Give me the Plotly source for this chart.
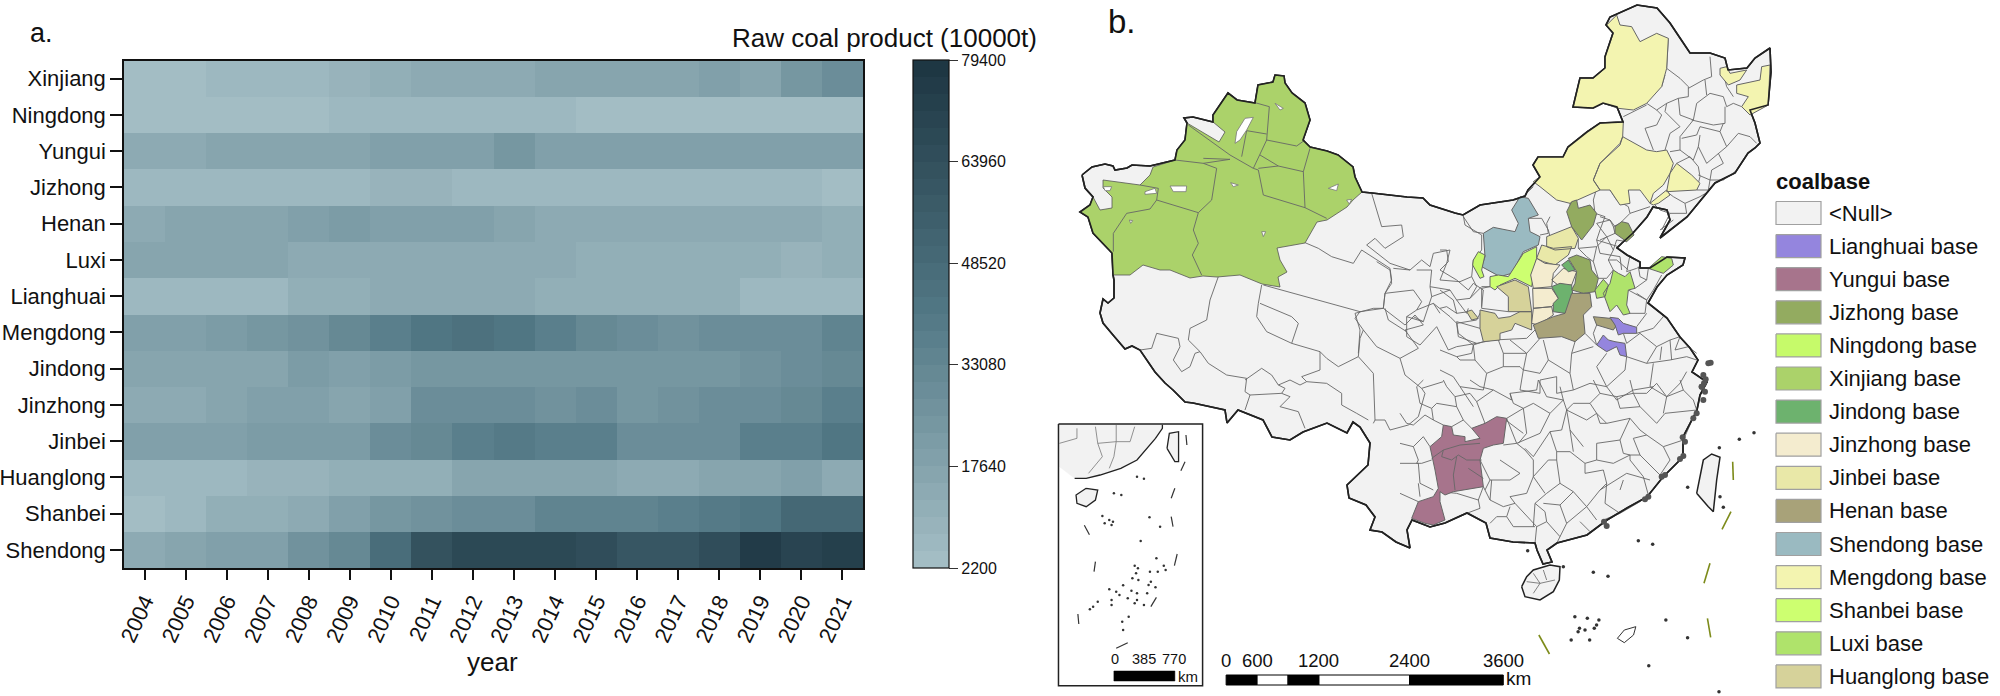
import plotly.graph_objects as go

# ---------- panel a data ----------
YEARS = [str(y) for y in range(2004, 2022)]
BASES = ["Xinjiang", "Ningdong", "Yungui", "Jizhong", "Henan", "Luxi", "Lianghuai", "Mengdong", "Jindong",
         "Jinzhong", "Jinbei", "Huanglong", "Shanbei", "Shendong"]
XINJIANG = [4000, 4000, 7000, 7000, 7000, 8000, 12000, 14000, 14000, 14000, 16000, 16000, 16000, 17000, 19000, 17000, 24000, 29000]
NINGDONG = [3000, 3000, 3000, 3000, 3000, 5000, 5000, 7000, 5000, 5000, 6000, 4000, 4000, 4000, 4000, 4000, 4000, 4000]
YUNGUI = [14000, 15000, 16000, 16000, 16000, 17000, 19000, 19000, 18000, 24000, 18000, 18000, 18000, 18000, 18000, 18000, 20000, 20000]
JIZHONG = [7000, 6000, 7000, 7000, 7000, 7000, 8000, 8000, 6000, 6000, 5000, 5000, 5000, 5000, 5000, 5000, 5000, 4000]
HENAN = [15000, 17000, 17000, 17000, 20000, 22000, 19000, 19000, 18000, 16000, 14000, 13000, 13000, 13000, 13000, 13000, 13000, 11000]
LUXI = [16000, 16000, 16000, 16000, 15000, 15000, 15000, 15000, 15000, 13000, 13000, 12000, 12000, 12000, 12000, 12000, 8000, 11000]
LIANGHUAI = [7000, 7000, 7000, 7000, 11000, 11000, 13000, 13000, 15000, 13000, 12000, 12000, 12000, 12000, 10000, 7000, 7000, 7000]
MENGDONG = [19000, 19000, 22000, 24000, 27000, 31000, 36000, 42000, 45000, 43000, 38000, 32000, 28000, 26000, 30000, 30000, 30000, 34000]
JINDONG = [17000, 17000, 17000, 17000, 22000, 20000, 22000, 24000, 25000, 25000, 25000, 25000, 23000, 25000, 25000, 27000, 28000, 31000]
JINZHONG = [13000, 14000, 16000, 20000, 20000, 16000, 19000, 28000, 28000, 28000, 27000, 30000, 24000, 27000, 29000, 29000, 31000, 36000]
JINBEI = [18000, 19000, 19000, 21000, 21000, 21000, 29000, 33000, 36000, 39000, 37000, 37000, 29000, 30000, 30000, 36000, 38000, 42000]
HUANGLONG = [5000, 5000, 5000, 8000, 8000, 10000, 10000, 12000, 17000, 17000, 17000, 17000, 14000, 14000, 17000, 17000, 18000, 15000]
SHANBEI = [3000, 5000, 11000, 12000, 15000, 19000, 24000, 26000, 28000, 28000, 34000, 34000, 34000, 36000, 40000, 42000, 49000, 51000]
SHENDONG = [15000, 17000, 18000, 20000, 27000, 32000, 47000, 63000, 69000, 67000, 67000, 65000, 59000, 61000, 64000, 76000, 70000, 74000]
Z = [XINJIANG, NINGDONG, YUNGUI, JIZHONG, HENAN, LUXI, LIANGHUAI, MENGDONG, JINDONG, JINZHONG, JINBEI, HUANGLONG, SHANBEI, SHENDONG]
CB_TICKS = [2200, 17640, 33080, 48520, 63960, 79400]

# ---------- panel b data (map units = picture units) ----------
LEGEND_NAMES = ["<Null>", "Lianghuai base", "Yungui base", "Jizhong base", "Ningdong base", "Xinjiang base", "Jindong base",
                "Jinzhong base", "Jinbei base", "Henan base", "Shendong base", "Mengdong base", "Shanbei base", "Luxi base", "Huanglong base"]
LEGEND_COLORS = ["#F2F2F2", "#9485DE", "#A7748C", "#93AB60", "#C6FA6A", "#ABD26A", "#6DB26E",
                 "#F4ECCF", "#E9E8A8", "#A8A279", "#9ABAC1", "#F3F4B0", "#CDFF70", "#AFE36B", "#D6D29A"]

LAND = [(1082,175),(1092,167),(1105,164),(1113,166),(1115,170),(1127,168),(1132,165),(1150,166),(1175,160),(1177,150),(1185,140),(1187,123),(1184,118),(1193,117),(1213,122),(1213,115),(1228,93),(1237,100),(1255,103),(1258,85),(1273,82),(1275,75),(1284,76),(1285,83),(1292,93),(1305,103),(1310,120),(1303,140),(1310,147),(1327,151),(1338,155),(1353,167),(1355,177),(1362,192),(1372,193),(1407,197),(1423,198),(1430,205),(1455,213),(1463,215),(1480,205),(1513,200),(1525,196),
(1528,190),(1540,177),(1533,165),(1538,157),(1563,157),(1568,147),(1587,132),(1600,123),(1623,122),(1617,107),(1603,103),(1593,108),(1573,107),(1580,78),(1593,78),(1605,68),(1605,57),(1613,33),(1606,25),(1610,17),(1637,5),(1657,8),(1670,23),(1680,38),(1690,53),(1710,53),(1725,58),(1728,70),(1747,68),(1755,58),(1770,48),(1771,72),(1768,105),(1750,110),(1755,123),(1760,143),(1755,148),(1748,153),(1735,173),(1715,183),(1707,193),(1687,217),(1660,238),(1670,220),(1667,210),(1653,207),(1647,217),(1633,233),(1622,243),(1617,248),(1627,255),(1640,262),(1640,268),(1650,268),(1667,257),(1685,258),(1683,265),(1667,275),(1657,287),(1648,303),(1667,318),(1680,337),(1690,348),(1698,360),(1692,372),(1707,382),(1700,395),(1697,410),(1683,437),(1683,457),(1663,477),(1647,497),(1627,508),(1607,520),(1587,535),(1557,543),(1547,550),(1552,562),(1543,564),(1537,550),(1535,543),(1513,542),(1490,538),(1486,523),(1467,513),(1445,523),(1430,527),(1412,520),(1407,530),(1410,548),(1396,542),(1382,532),(1370,530),(1375,517),(1366,505),(1349,498),(1347,485),(1359,473),(1368,465),(1370,443),(1360,427),(1353,422),(1347,433),(1327,423),(1303,432),(1290,440),(1272,437),(1263,420),(1238,410),(1227,423),(1225,410),(1193,403),(1185,402),(1173,390),(1165,383),(1155,372),(1140,350),(1132,346),(1125,349),(1113,335),(1103,323),(1100,313),(1103,299),(1108,303),(1114,298),(1114,280),(1113,275),(1112,253),(1093,233),(1088,217),(1080,212),(1090,205),(1093,197),(1085,188),(1082,175)]

XINJIANG_BASE = [(1175,160),(1177,150),(1185,140),(1187,123),(1219,142),(1225,132),(1213,122),(1213,115),(1228,93),(1237,100),(1255,103),(1258,85),(1273,82),(1275,75),(1284,76),(1285,83),(1292,93),(1305,103),(1310,120),(1303,140),(1310,147),(1327,151),(1338,155),(1353,167),(1355,177),(1362,192),(1353,200),(1347,207),(1327,220),(1317,222),(1305,243),(1277,248),(1280,260),(1287,272),(1278,277),(1280,287),(1262,284),(1240,275),(1217,277),(1203,276),(1190,278),(1170,270),(1160,270),(1143,265),(1130,275),(1113,275),(1112,253),(1093,233),(1088,217),(1080,212),(1090,205),(1093,197),(1100,210),(1112,208),(1112,197),(1103,188),(1103,180),(1140,185),(1150,175),(1153,167)]

# crop-5 units
LAKES_Z5 = [[(530,215),(555,175),(580,172),(560,210),(540,240),(525,250)], [(330,378),(380,378),(378,395),(340,395)], [(255,395),(285,385),(290,400),(255,403)], [(805,385),(835,372),(830,392)], [(860,420),(875,418),(868,432)], [(130,380),(155,380),(150,392),(135,392)], [(645,130),(670,145),(660,150)], [(605,515),(617,515),(610,530)], [(512,368),(535,375),(520,380)], [(208,480),(218,482),(212,490)]]
LINES_Z5 = [[(385,195),(510,285),(580,325),(595,330),(610,405),(735,443),(800,475)],
            [(345,300),(430,310),(470,325),(455,420),(415,458),(290,420),(270,447),(200,460),(160,520),(160,575)],
            [(415,458),(400,510),(415,550),(397,585),(425,645)], [(430,295),(510,298),(430,310)],
            [(585,128),(628,140),(620,240),(710,258),(735,240)], [(620,240),(600,285),(580,325)],
            [(560,212),(620,222)], [(560,212),(545,290)], [(600,285),(655,318),(730,335),(750,265)],
            [(730,335),(735,443)], [(655,318),(595,325)], [(240,375),(295,385),(290,420)],
            [(935,400),(965,500),(1025,495),(1030,530),(975,565),(945,535),(920,555),(990,610),(1050,630)],
            [(735,548),(775,565),(815,590),(880,610),(905,570),(990,625),(995,660),(975,700),(970,745),(940,745),(885,760)],
            [(1210,468),(1215,495),(1265,525)],
            [(1050,630),(1085,600),(1110,620),(1120,580),(1170,570),(1160,610),(1140,660),(1200,665),(1235,650),(1250,680),(1230,715),(1265,680),(1290,680)],
            [(1070,630),(1115,630),(1110,680),(1170,690),(1190,720),(1220,760),(1225,745)],
            [(975,700),(1060,690),(1085,725),(1070,750),(1040,770),(1090,785),(1115,710)],
            [(1120,730),(1170,770),(1190,790),(1250,780),(1265,750)],
            [(1040,770),(1040,830),(1080,855),(1130,800),(1165,870),(1190,860),(1250,850),(1300,840),(1400,835),(1425,810)],
            [(975,745),(985,780),(1040,815)], [(1265,525),(1265,570),(1240,600),(1235,650)],
            [(885,760),(900,810),(895,880)], [(1290,680),(1265,685),(1265,745),(1345,755)],
            [(1115,710),(1140,700),(1170,690)], [(1090,785),(1060,770)], [(1000,625),(1050,630)], [(1110,680),(1115,710)], [(1190,720),(1230,715)],
            [(1190,790),(1195,830),(1250,850)], [(1070,750),(1120,730),(1140,760)], [(1300,840),(1290,800),(1265,750)]]
# crop-9 units
LINES_Z9 = [[(385,50),(360,120),(350,180),(300,205),(295,240),(330,275),(355,310),(410,345),(470,355),(465,395),(480,405),(465,450)],
            [(150,270),(185,265),(200,220),(265,235),(270,260),(250,300),(275,335),(300,320),(315,280),(330,275)],
            [(515,75),(505,130),(500,170),(530,215),(605,250),(625,190),(605,170),(510,130)],
            [(605,250),(690,275),(690,330),(635,350),(650,365),(710,370),(755,400),(755,435),(800,460),(835,480)],
            [(520,75),(700,125),(810,155),(880,145)], [(810,155),(795,175),(820,210),(810,235),(805,290),(745,320),(710,295),(690,275)],
            [(805,290),(850,340),(855,480),(850,490)], [(465,360),(515,325),(545,345),(565,375),(600,360),(630,375),(650,365)],
            [(480,405),(575,400),(600,410),(570,440),(625,455),(645,505)], [(565,375),(585,385),(575,400)],
            [(820,210),(860,260),(930,295),(945,345),(995,385),(1060,365)], [(880,145),(885,100),(905,70),(900,30),(860,5)],
            [(880,145),(945,195),(975,165),(1000,195),(945,210),(985,265),(930,295)],
            [(855,480),(885,480),(900,510),(955,495),(985,470),(1005,400),(995,385)]]
# crop-6 units
LINES_Z6 = [[(685,115),(680,205),(720,235),(745,260),(745,290),(715,295),(720,345),(760,360),(770,310),(810,280),(850,290),(860,320),(880,310),(905,320)],
            [(810,170),(815,230),(790,240),(745,265)], [(795,240),(800,285)], [(850,220),(860,260),(880,290)], [(675,225),(665,260)],
            [(620,310),(650,330),(680,310),(715,295)], [(550,350),(620,315)], [(650,330),(665,345),(650,375),(615,385),(640,450)],
            [(680,310),(675,335),(720,380),(690,400),(675,450)], [(760,360),(745,380),(720,410),(720,450),(690,455)],
            [(755,360),(820,375),(855,370),(855,320)], [(850,370),(840,395),(860,440),(895,400),(930,410),(950,430)],
            [(840,395),(780,380),(770,405),(725,415)], [(780,405),(775,440),(800,490),(835,460),(860,440)], [(720,450),(760,480),(775,440)],
            [(835,460),(850,490),(815,510),(810,540),(850,540),(885,515)], [(710,490),(750,470),(775,500),(780,530),(770,570),(805,570)],
            [(775,525),(810,540),(805,570)], [(680,575),(700,590),(735,610),(740,640),(690,640),(665,690)], [(640,610),(660,630),(690,640)],
            [(735,610),(780,590),(805,575)], [(660,690),(700,660)], [(280,560),(250,590),(225,600)], [(265,655),(305,655),(325,690),(330,710)],
            [(390,610),(395,680)], [(470,565),(460,600),(465,640),(495,650),(480,690),(470,720),(535,740)], [(510,570),(530,600),(565,620),(570,640),(630,620)],
            [(570,640),(540,670),(520,680)], [(480,650),(510,660),(520,680),(525,700),(480,720)], [(470,720),(480,760),(540,770),(545,810)]]
# crop-7 units
LINES_Z7 = [[(70,80),(100,125),(130,130)], [(300,135),(325,130),(320,100),(330,80)], [(415,145),(415,175),(470,170),(500,140),(470,100),(510,90),(525,110)],
            [(470,170),(460,215),(475,265),(500,265),(520,240)], [(500,140),(520,180),(530,150),(560,155)], [(520,180),(505,210),(520,240)],
            [(570,195),(560,245),(590,235),(600,230)], [(585,295),(620,270),(625,235)], [(565,300),(620,330),(640,300),(665,255)],
            [(570,370),(615,370),(620,330)], [(590,410),(620,370)], [(590,430),(640,415),(670,380),(660,365)], [(560,460),(600,430),(650,470),(690,450),(720,440)],
            [(560,500),(620,520),(650,470)], [(620,520),(690,510),(740,500),(770,510)], [(690,450),(695,510)], [(405,455),(395,490),(460,470)], [(470,465),(435,430)],
            [(130,455),(100,465),(95,490),(50,500),(0,480)], [(175,450),(190,490),(260,490),(300,445)], [(210,450),(260,490),(250,540),(300,550),(325,510),(310,450)],
            [(395,490),(390,550),(325,510)], [(390,550),(400,600),(450,580),(500,590),(470,530),(500,490)], [(560,500),(555,540),(500,590),(530,630),(580,600),(640,590)],
            [(640,520),(630,590),(680,620),(720,580),(740,545)], [(250,540),(240,600),(300,610),(300,570),(350,560),(350,610),(400,600)],
            [(190,490),(190,530),(240,530),(250,540)], [(190,530),(140,550),(130,600),(60,590),(100,650)], [(100,465),(105,510),(60,510),(50,500)], [(105,510),(140,550)],
            [(0,300),(40,330),(50,370),(85,365)], [(120,415),(50,395),(55,430),(100,465)], [(130,300),(125,350)], [(130,300),(100,280),(85,300),(50,270),(0,240)], [(50,370),(20,350),(0,355)],
            [(60,590),(40,560),(0,540)], [(0,240),(25,215),(20,180),(0,180)], [(440,200),(460,215)], [(415,175),(440,200)], [(565,240),(530,210),(505,210)], [(595,230),(600,260),(620,270)],
            [(620,330),(590,310)], [(665,470),(660,510)], [(720,440),(705,480),(745,470),(770,490)], [(550,430),(560,460)], [(470,405),(460,430),(470,465)]]
# crop-8 units
LINES_Z8 = [[(0,190),(40,200),(55,240),(50,250),(65,250),(95,240)], [(0,250),(55,250),(60,310),(100,330)], [(0,340),(55,365)],
            [(120,335),(170,340),(235,360),(240,385),(200,400)], [(250,320),(270,360),(310,380),(345,370),(330,350),(380,340),(400,290),(400,240),(375,210),(350,190),(310,195)],
            [(300,240),(360,280),(330,300),(270,300),(255,330)], [(345,370),(410,440),(405,490)], [(330,380),(320,410),(290,410),(270,430)], [(320,410),(340,440),(405,440)],
            [(410,440),(440,425),(480,470),(470,490)], [(440,425),(435,395),(405,370),(440,340)],
            [(435,340),(400,290),(445,240),(470,240),(470,215),(510,215),(555,250),(555,280),(610,270),(620,310),(600,330),(650,300),(680,280),(750,300)],
            [(470,240),(480,310),(440,340)], [(480,310),(520,335),(560,380),(590,420)], [(520,335),(480,375),(500,430),(480,470)], [(560,380),(500,430)], [(540,425),(570,455)],
            [(620,310),(615,370),(660,400),(720,365)], [(660,330),(670,300)], [(745,345),(730,290),(690,240),(690,225),(640,250),(590,240)], [(590,240),(590,190),(660,180),(690,115)],
            [(690,225),(720,225),(780,285)], [(720,225),(700,175),(740,165),(790,200),(850,180)], [(790,200),(810,240),(780,285)], [(690,115),(720,150),(740,165)],
            [(720,80),(770,130),(795,100),(890,90)], [(720,80),(700,40),(740,40),(770,10),(800,50),(790,100)],
            [(690,115),(620,130),(590,100),(560,120),(500,90),(485,150),(450,155),(400,230),(375,205)], [(370,85),(400,70),(450,100),(420,160),(350,190)],
            [(370,85),(380,160),(355,190)], [(310,115),(370,160)], [(450,100),(490,60),(500,90),(520,70),(570,70),(590,100)], [(570,70),(600,40),(650,50),(700,40)],
            [(330,40),(410,30),(415,0)], [(330,40),(340,70),(370,85)], [(480,20),(490,60)], [(580,0),(600,40)], [(700,40),(690,0)], [(550,200),(510,150),(520,215)],
            [(0,100),(20,130),(40,135),(75,105),(100,120),(95,85),(60,70),(50,20),(70,0)], [(100,120),(130,135)], [(40,200),(70,170),(90,200)],
            [(155,140),(190,120),(215,145)], [(190,120),(170,80),(110,70),(95,85)], [(170,80),(165,50),(140,20),(130,0)], [(165,50),(210,40),(230,65),(280,30),(240,20),(210,0)],
            [(230,65),(255,130)], [(280,30),(335,60),(330,40)], [(320,115),(350,190)], [(55,310),(60,350)], [(370,85),(320,115)], [(235,360),(250,320)], [(270,300),(240,240)],
            [(415,0),(440,50),(490,60)], [(590,100),(600,130),(620,130)], [(650,50),(660,85),(720,80)], [(800,50),(850,30),(880,60),(890,90)], [(850,30),(840,0)], [(850,180),(890,90)],
            [(660,180),(670,220),(690,225)], [(500,90),(510,150)], [(555,250),(590,240)], [(450,155),(470,215)], [(600,330),(560,380)], [(480,375),(430,370)], [(405,370),(400,440)],
            [(660,400),(610,420)], [(720,365),(745,345),(790,290)], [(270,360),(275,300)]]
LINES_Y8 = [[(95,235),(130,210),(180,195),(240,190)], [(130,210),(125,230),(155,240),(175,225),(200,240),(245,240)], [(170,230),(160,285),(165,330)], [(205,265),(250,295)]]

HAINAN_Z8 = [(365,620),(380,590),(400,570),(450,555),(480,560),(478,600),(460,635),(420,660),(375,650)]
HAINAN_LINES_Z8 = [[(400,580),(420,610),(400,640)], [(420,610),(465,600)], [(380,605),(420,610)], [(430,570),(440,600)]]
TAIWAN_Z8 = [(890,340),(910,240),(935,222),(960,232),(950,300),(940,395),(925,380)]
DASHES_Z8 = [[(998,245),(1000,300)], [(993,395),(966,448)], [(930,550),(912,610)]]
DASHES_Z3 = [[(1445,655),(1452,712)], [(1080,705),(1103,762)]]
ISLETS_Z8 = [(715,482),(758,493),(580,577),(624,589),(383,512),(1018,178),(1062,158),(960,350),(970,382),(863,322),(958,203),(490,560)]
ISLETS_Z3 = [(1158,650),(1168,685),(1180,690),(1200,685),(1190,720),(1150,720),(1355,660),(1402,713),(1318,797),(1185,655),(1210,660),(1470,875),(1165,695),(1205,675)]
COAST_ISLES_Z8 = [(848,172),(855,185),(850,228),(840,237),(795,285),(785,290),(745,350),(735,358),(612,425),(620,438),(890,100),(905,20),(912,10),(880,115)]
COAST_ISLES_Z7 = [(790,555),(797,568),(785,590),(795,605),(790,630),(805,520),(812,518)]
SHOAL_Z3 = [(1250,715),(1265,690),(1290,680),(1285,705),(1265,728)]

# Base territories per crop
REG_Z7 = {
 "Shendong base": [[(215,60),(240,20),(265,25),(295,75),(265,85),(270,125),(300,140),(295,165),(250,185),(215,250),(180,260),(125,230),(135,200),(130,130),(160,112),(225,125),(235,100)]],
 "Ningdong base": [[(100,210),(115,185),(135,195),(130,215),(125,240),(132,260),(120,265),(98,225)]],
 "Shanbei base": [[(150,260),(175,255),(205,260),(250,190),(290,170),(290,205),(275,290),(225,265),(180,285),(165,300),(150,290)]],
 "Huanglong base": [[(170,290),(225,270),(265,290),(275,365),(205,365),(205,320)],
                    [(120,360),(165,370),(175,385),(210,380),(240,365),(275,365),(275,420),(225,400),(215,420),(180,430),(180,450),(130,455),(120,415)],
                    [(80,365),(95,360),(115,385),(95,390)]],
 "Jinbei base": [[(320,140),(360,125),(395,110),(415,145),(405,175),(345,180),(320,170)], [(290,205),(305,165),(340,175),(395,170),(385,195),(345,225),(310,215)]],
 "Jinzhong base": [[(290,205),(315,220),(360,225),(340,250),(335,290),(280,295),(272,255)], [(335,270),(370,235),(410,245),(395,285),(360,290)],
                   [(278,295),(335,295),(355,325),(335,350),(280,355)], [(280,355),(335,350),(340,375),(295,405),(275,400)]],
 "Jindong base": [[(365,225),(385,210),(405,240),(385,245)], [(335,290),(360,280),(395,285),(400,330),(375,370),(340,365),(340,340),(355,325)]],
 "Jizhong base": [[(395,35),(410,30),(415,55),(450,45),(470,70),(460,105),(425,150),(395,110),(380,65)], [(525,110),(545,95),(565,100),(582,135),(560,155),(525,130)],
                  [(385,205),(410,195),(450,210),(455,240),(475,265),(465,305),(430,310),(395,300),(405,280),(410,245)]],
 "Luxi base": [[(465,300),(490,268),(505,285),(495,320),(470,325)],
               [(520,240),(535,250),(555,260),(570,245),(585,295),(565,300),(560,345),(570,370),(550,375),(530,345),(510,365),(490,310),(510,280)],
               [(625,235),(665,200),(695,205),(700,225),(670,250)]],
 "Henan base": [[(395,310),(450,310),(455,350),(430,375),(435,430),(405,455),(365,440),(310,445),(295,445),(280,405),(340,380),(375,370)], [(460,380),(510,385),(530,405),(520,420),(470,405)]],
 "Lianghuai base": [[(510,382),(535,385),(550,400),(590,412),(590,430),(550,430),(535,435),(525,405)], [(470,465),(490,435),(505,450),(525,455),(555,460),(560,500),(540,495),(530,470),(500,485)]],
}
REG_Z6 = {"Mengdong base": [
 [(500,75),(530,45),(540,75),(575,80),(600,125),(650,100),(685,115),(680,205),(665,260),(620,310),(580,330),(535,325),(490,310),(460,325),(400,320),(420,235),(460,235),(495,205),(495,170),(520,100)],
 [(550,365),(548,410),(540,430),(480,490),(460,540),(480,570),(390,610),(350,600),(300,560),(280,545),(300,530),(280,495),(295,470),(370,470),(385,440),(440,395),(480,370)],
 [(548,410),(620,450),(650,455),(680,450),(700,490),(690,520),(670,555),(640,580),(630,610),(600,570),(565,570),(570,610),(540,615),(510,570),(480,570),(460,540),(480,490),(540,435)],
 [(710,490),(755,525),(780,550),(770,570),(680,575),(690,520)], [(630,610),(680,570),(690,585),(655,610),(640,615)],
 [(840,205),(860,200),(870,220),(920,210),(900,240),(865,255),(840,225)], [(890,255),(960,240),(965,200),(990,195),(985,315),(930,345),(905,320),(925,290),(890,280)]]}
REG_Z8 = {"Yungui base": [[(130,135),(155,140),(160,165),(195,170),(195,185),(240,175),(215,145),(255,130),(290,110),(320,115),(310,190),(280,195),(250,205),(240,240),(250,320),(190,330),(160,335),(135,345),(120,335),(120,365),(135,420),(100,435),(75,430),(35,415),(55,365),(100,350),(115,325),(105,270),(90,200),(125,170)]]}

# inset, crop-3 units
INSET_LAND_Z3 = [(42,74),(265,74),(265,85),(250,115),(235,140),(210,180),(175,205),(130,225),(100,235),(75,235),(42,200)]
INSET_HAINAN_Z3 = [(100,265),(125,270),(120,300),(100,320),(80,310),(78,285)]
INSET_TAIWAN_Z3 = [(275,145),(280,100),(300,95),(300,185),(292,185)]
INSET_GREY_Z3 = [[(42,130),(80,115),(80,85)], [(120,80),(125,130),(165,125),(165,75)], [(205,80),(195,125),(165,125)], [(125,130),(135,170),(105,220)], [(165,125),(160,170),(150,205)]]
INSET_DASH_Z3 = [[(316,105),(318,135)], [(314,185),(305,212)], [(292,265),(284,295)], [(284,350),(288,380)], [(96,376),(107,404)], [(297,462),(291,497)], [(120,485),(117,515)], [(252,592),(240,620)], [(82,642),(84,672)], [(190,728),(165,745)]]
INSET_ISLETS_Z3 = [(210,230),(225,236),(160,280),(176,285),(135,348),(150,360),(158,365),(140,370),(155,375),(237,352),(260,380),(218,423),(252,475),(205,497),(212,505),(208,520),(200,535),(213,540),(238,515),(240,545),(268,497),(272,510),(255,515),(235,555),(250,562),(150,568),(165,575),(180,556),(172,585),(198,572),(210,580),(232,580),(190,595),(210,600),(205,610),(225,615),(155,600),(155,615),(125,605),(115,620),(108,628),(178,665),(180,690),(192,650)]

SCALE_MAIN_Z3 = [403, 470, 537, 604, 800, 1003]
SCALE_MAIN_LABELS = ["0", "600", "1200", "2400", "3600"]
SCALE_INSET_LABELS = ["0", "385", "770"]

# ---------- helpers ----------
def z3(p): return (1040 + p[0] / 2.165, 400 + p[1] / 3)
def crop(x0, y0): return lambda p: (x0 + p[0] / 3, y0 + p[1] / 3)
z5, z6, z7, z8, z9 = crop(1060, 60), crop(1440, 0), crop(1440, 190), crop(1400, 380), crop(1090, 260)

def path(polys, f=lambda p: p):
    xs, ys = [], []
    for poly in polys:
        pts = [f(p) for p in poly]
        xs += [p[0] for p in pts] + [None]
        ys += [p[1] for p in pts] + [None]
    return xs, ys

fig = go.Figure()

def shape(polys, f=lambda p: p, fill=None, line="#666666", w=1.0, closed=False):
    if fill or closed:
        polys = [list(p) + [p[0]] for p in polys]
    xs, ys = path(polys, f)
    fig.add_trace(go.Scatter(x=xs, y=ys, xaxis="x2", yaxis="y2", mode="lines", hoverinfo="skip", showlegend=False,
                             fill="toself" if fill else None, fillcolor=fill, line=dict(color=line, width=w)))

def dots(pts, f, size=3.5, color="#333333"):
    xs, ys = path([[p] for p in pts], f)
    fig.add_trace(go.Scatter(x=xs, y=ys, xaxis="x2", yaxis="y2", mode="markers", hoverinfo="skip", showlegend=False,
                             marker=dict(size=size, color=color)))

# ---------- heat map ----------
N_BANDS = 30
STOPS = [(0.0, (163, 189, 196)), (0.5, (82, 120, 133)), (1.0, (30, 55, 67))]
def band_color(t):
    for (a, ca), (b, cb) in zip(STOPS, STOPS[1:]):
        if t <= b:
            k = (t - a) / (b - a)
            return "rgb(%d,%d,%d)" % tuple(round(u + (v - u) * k) for u, v in zip(ca, cb))
    return "rgb(30,55,67)"
scale = []
for i in range(N_BANDS):
    c = band_color(i / (N_BANDS - 1))
    scale += [[i / N_BANDS, c], [(i + 1) / N_BANDS, c]]

fig.add_trace(go.Heatmap(x=YEARS, y=BASES, z=Z, zmin=2200, zmax=79400, colorscale=scale, hoverinfo="skip",
    colorbar=dict(x=913 / 2000, xanchor="left", xpad=0, y=1 - 568 / 696, yanchor="bottom", ypad=0, len=(568 - 60.5) / 696, lenmode="fraction",
                  thickness=36, thicknessmode="pixels", outlinecolor="#111111", outlinewidth=1.2, tickvals=CB_TICKS, ticktext=[str(t) for t in CB_TICKS],
                  ticks="outside", ticklen=9, tickwidth=1, tickcolor="#333333", tickfont=dict(size=16, color="#111111", family="Liberation Sans"))))

# ---------- map ----------
shape([LAND], fill="#F2F2F2", line="#222222", w=1.6)
colors = dict(zip(LEGEND_NAMES, LEGEND_COLORS))
for lines, f in [(LINES_Z5, z5), (LINES_Z6, z6), (LINES_Z7, z7), (LINES_Z8, z8), (LINES_Z9, z9)]:
    shape(lines, f, line="#666666", w=0.9)
shape([XINJIANG_BASE], fill=colors["Xinjiang base"], line="#555555", w=0.8)
shape(LINES_Z5[:12], z5, line="#666666", w=0.9)
shape(LAKES_Z5, z5, fill="#FFFFFF", line="#777777", w=0.8)
for reg, f in [(REG_Z6, z6), (REG_Z7, z7), (REG_Z8, z8)]:
    for name, polys in reg.items():
        shape(polys, f, fill=colors[name], line="#666666", w=1.0)
shape(LINES_Y8, z8, line="#666666", w=0.9)
shape([LAND], line="#222222", w=1.6)
dots(COAST_ISLES_Z8, z8, size=6, color="#555555")
dots(COAST_ISLES_Z7, z7, size=6, color="#555555")
shape([HAINAN_Z8], z8, line="#222222", w=1.5, fill="#F2F2F2")
shape(HAINAN_LINES_Z8, z8, line="#666666", w=0.8)
shape([TAIWAN_Z8], z8, line="#222222", w=1.5, fill="#F2F2F2")
shape(DASHES_Z8, z8, line="#7D8B1A", w=1.6)
shape(DASHES_Z3, z3, line="#7D8B1A", w=1.6)
shape([SHOAL_Z3], z3, line="#333333", w=1.0, closed=True)
dots(ISLETS_Z8, z8)
dots(ISLETS_Z3, z3)

# inset
shape([INSET_LAND_Z3], z3, fill="#F2F2F2", line="#F2F2F2", w=0.5)
shape([INSET_LAND_Z3[1:-1]], z3, line="#222222", w=1.3)
shape(INSET_GREY_Z3, z3, line="#777777", w=0.8)
shape([INSET_HAINAN_Z3], z3, fill="#F2F2F2", line="#222222", w=1.3)
shape([INSET_TAIWAN_Z3], z3, fill="#F2F2F2", line="#222222", w=1.3)
shape(INSET_DASH_Z3, z3, line="#333333", w=1.2)
dots(INSET_ISLETS_Z3, z3, size=2.5)
shape([[(40, 72), (352, 72), (352, 857), (40, 857)]], z3, line="#222222", w=1.5, closed=True)
shape([[(160, 813), (292, 813), (292, 843), (160, 843)]], z3, fill="#000000", line="#000000", w=0.5)

# main scale bar
for i, (a, b) in enumerate(zip(SCALE_MAIN_Z3, SCALE_MAIN_Z3[1:])):
    shape([[(a, 825), (b, 825), (b, 855), (a, 855)]], z3, fill="#000000" if i % 2 == 0 else "#FFFFFF", line="#000000", w=1)

# legend swatches
LEG_Y0, LEG_DY = 213, 33.1
for i, c in enumerate(LEGEND_COLORS):
    y = LEG_Y0 + i * LEG_DY
    shape([[(1776, y - 11.5), (1821, y - 11.5), (1821, y + 11.5), (1776, y + 11.5)]], fill=c, line="#A0A0A0", w=1.2)

def note(x, y, text, size, anchor="left", bold=False):
    fig.add_annotation(x=x, y=y, xref="x2", yref="y2", text=("<b>%s</b>" % text) if bold else text, showarrow=False, xanchor=anchor, yanchor="middle",
                       font=dict(size=size, color="#111111", family="Liberation Sans"), borderpad=0, borderwidth=0)

for i, n in enumerate(LEGEND_NAMES):
    note(1829, LEG_Y0 + i * LEG_DY, n.replace("<", "&lt;").replace(">", "&gt;"), 22)
note(1776, 181, "coalbase", 22, bold=True)
for t, lab in zip(SCALE_MAIN_Z3[:2] + SCALE_MAIN_Z3[3:], SCALE_MAIN_LABELS):
    x = z3((t, 0))[0]
    note(x, 660, lab, 18.5, "center")
note(1506, 678, "km", 19)
for x, lab in zip([1115, 1144, 1174], SCALE_INSET_LABELS):
    note(x, 659, lab, 14.5, "center")
note(1178, 676, "km", 15)
note(30, 33, "a.", 27)
note(1108, 21, "b.", 33)
note(1037, 38, "Raw coal product (10000t)", 26, "right")
note(492, 662, "year", 26, "center")

fig.update_layout(
    width=2000, height=696, autosize=False, margin=dict(l=0, r=0, t=0, b=0, autoexpand=False), paper_bgcolor="white", plot_bgcolor="rgba(0,0,0,0)",
    xaxis=dict(domain=[124 / 2000, 863 / 2000], anchor="y", type="category", automargin=False, tickangle=-65, ticks="outside", ticklen=10, tickwidth=1.5, tickcolor="#111111",
               tickfont=dict(size=22, color="#111111", family="Liberation Sans"), showline=True, linecolor="#111111", linewidth=1.5, mirror=True, showgrid=False, zeroline=False),
    yaxis=dict(domain=[1 - 568 / 696, 1 - 60.5 / 696], anchor="x", type="category", automargin=False, autorange="reversed", ticks="outside", ticklen=12, tickwidth=1.5, tickcolor="#111111",
               tickfont=dict(size=22, color="#111111", family="Liberation Sans"), showline=True, linecolor="#111111", linewidth=1.5, mirror=True, showgrid=False, zeroline=False),
    xaxis2=dict(domain=[0, 1], anchor="y2", range=[0, 2000], visible=False, fixedrange=True, automargin=False),
    yaxis2=dict(domain=[0, 1], anchor="x2", range=[696, 0], visible=False, fixedrange=True, automargin=False),
    showlegend=False,
)
fig.write_html("out.html", config={"displayModeBar": False},
               post_script="document.body.style.margin='0';document.documentElement.style.overflow='hidden';")
